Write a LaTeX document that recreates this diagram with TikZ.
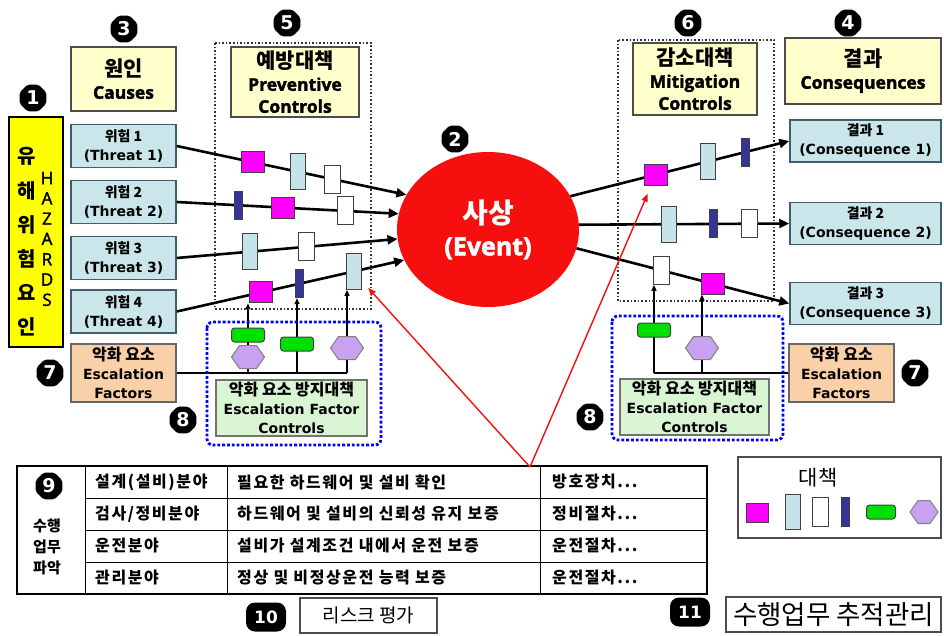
\documentclass[tikz,border=0pt]{standalone}
\usepackage{fontspec}
\setmainfont{Noto Sans CJK KR}
\newfontfamily\lat{DejaVu Sans}
\newfontfamily\lab{Open Sans}[FakeBold=2]
\usetikzlibrary{arrows.meta, positioning, shapes.geometric, shapes.symbols, backgrounds, calc}

\definecolor{hzyel}{HTML}{FFFF00}
\definecolor{lblyel}{HTML}{FFFFCC}
\definecolor{thrfill}{HTML}{CBE6EA}
\definecolor{thrdraw}{HTML}{3F5F6F}
\definecolor{escfill}{HTML}{FAD0A8}
\definecolor{efcfill}{HTML}{D9F5D3}
\definecolor{ctlmag}{HTML}{FF00FF}
\definecolor{ctlblue}{HTML}{C5E3E8}
\definecolor{ctlnavy}{HTML}{333399}
\definecolor{ctlgreen}{HTML}{00E000}
\definecolor{ctlhex}{HTML}{C8A2F0}
\definecolor{evred}{HTML}{F50F0F}

\begin{document}
\begin{tikzpicture}[x=1pt, y=-1pt,
    lblbox/.style={draw=black!70, line width=1.2pt, fill=lblyel, align=center, inner sep=0pt, font=\bfseries\fontsize{17.5}{22}\selectfont},
    thrbox/.style={draw=thrdraw, line width=1.5pt, fill=thrfill, minimum width=105pt, minimum height=43pt, align=center, inner sep=0pt, font=\bfseries\fontsize{14}{19}\selectfont},
    cqbox/.style={thrbox, minimum width=151pt, minimum height=42pt},
    escbox/.style={draw=black!60, line width=1.5pt, fill=escfill, minimum width=105pt, minimum height=58pt, align=center, inner sep=0pt, font=\bfseries\fontsize{14}{19}\selectfont},
    efcbox/.style={draw=black!55, line width=1.2pt, fill=efcfill, minimum height=56pt, align=center, inner sep=0pt, font=\bfseries\fontsize{14}{19}\selectfont},
    tabtext/.style={anchor=west, inner sep=0pt, font=\bfseries\fontsize{16}{18}\selectfont\addfontfeatures{LetterSpace=10}},
    ctl/.style={draw=black!75, line width=1pt, inner sep=0pt},
    ctlM/.style={ctl, fill=ctlmag, minimum width=23pt, minimum height=21pt},
    ctlB/.style={ctl, fill=ctlblue, minimum width=15pt, minimum height=36pt},
    ctlW/.style={ctl, fill=white, minimum width=16pt, minimum height=28pt},
    ctlN/.style={ctl, fill=ctlnavy, minimum width=8pt, minimum height=28pt},
    ctlG/.style={ctl, fill=ctlgreen, rounded corners=3pt, minimum width=33pt, minimum height=14pt},
    ctlH/.style={ctl, draw=black!50, signal, signal to=east and west, signal pointer angle=110, fill=ctlhex, minimum width=33pt, minimum height=23pt},
    num/.style={regular polygon, regular polygon sides=8, fill=black, text=white, minimum size=29pt, inner sep=0pt, rounded corners=2pt, font=\lat\bfseries\fontsize{19}{19}\selectfont},
    numw/.style={fill=black, text=white, rounded corners=9pt, minimum width=40pt, minimum height=29pt, inner sep=0pt, font=\lat\bfseries\fontsize{17}{17}\selectfont},
    flow/.style={line width=2.6pt, -{Triangle[length=10pt,width=9pt]}},
    efline/.style={line width=1.4pt},
    efarrow/.style={line width=1.4pt, -{Triangle[length=6pt,width=5pt]}},
    redarr/.style={evred, line width=1.4pt, -{Triangle[length=8pt,width=6pt]}},
    ctrlzone/.style={draw=black!80, line width=1.6pt, dotted},
    efczone/.style={draw=blue, line width=2.8pt, dotted, rounded corners=6pt}
    ]
    \useasboundingbox (0,0) rectangle (944,636);
    \begin{pgfonlayer}{background}
        \fill[white] (0,0) rectangle (944,636);
    \end{pgfonlayer}

    % Control zones
    \draw[ctrlzone] (215,43) rectangle (371,309);
    \draw[ctrlzone] (618,40) rectangle (774,301);
    \draw[efczone] (207,322) rectangle (381,445);
    \draw[efczone] (612,316) rectangle (783,440);

    % Hazards
    \node[draw=black, line width=1.2pt, fill=hzyel, minimum width=54pt, minimum height=230pt] (hz) at (36,232) {};
    \node[font=\bfseries\fontsize{20}{34.2}\selectfont, align=center, inner sep=0pt] (hzk) at (27,242) {유\\해\\위\\험\\요\\인};
    \node[font=\lab\fontsize{17}{20.3}\selectfont, align=center, inner sep=0pt] (hze) at (47,239) {H\\A\\Z\\A\\R\\D\\S};

    % Headings
    \node[lblbox, minimum width=105pt, minimum height=64pt] (cause) at (123.5,79) {{\fontsize{21}{22}\selectfont 원인}\\{\lab Causes}};
    \node[lblbox, minimum width=128pt, minimum height=70pt] (prev) at (295,82) {{\fontsize{21}{22}\selectfont 예방대책}\\{\lab Preventive}\\{\lab Controls}};
    \node[lblbox, minimum width=124pt, minimum height=72pt] (miti) at (695,79) {{\fontsize{21}{22}\selectfont 감소대책}\\{\lab Mitigation}\\{\lab Controls}};
    \node[lblbox, minimum width=156pt, minimum height=66pt] (conseq) at (863,71) {{\fontsize{21}{22}\selectfont 결과}\\{\lab Consequences}};

    % Threats
    \node[thrbox] (t1) at (123.5,146) {위험 1\\{\lat(Threat 1)}};
    \node[thrbox] (t2) at (123.5,202) {위험 2\\{\lat(Threat 2)}};
    \node[thrbox] (t3) at (123.5,258) {위험 3\\{\lat(Threat 3)}};
    \node[thrbox] (t4) at (123.5,311.5) {위험 4\\{\lat(Threat 4)}};

    % Top event
    \node[ellipse, fill=evred, minimum width=182pt, minimum height=155pt, inner sep=0pt, text=white, align=center, font=\bfseries\fontsize{28}{32}\selectfont] (ev) at (488,229.5) {사상\\{\lab\fontsize{25}{32}\selectfont(Event)}};

    % Consequences
    \node[cqbox] (cq1) at (865.5,141) {결과 1\\{\lat(Consequence 1)}};
    \node[cqbox] (cq2) at (865.5,223.5) {결과 2\\{\lat(Consequence 2)}};
    \node[cqbox] (cq3) at (865.5,303.5) {결과 3\\{\lat(Consequence 3)}};

    % Threat lines with preventive controls
    \draw[flow] (t1.east) -- (ev.157) node[ctlM, pos=.33] (mL1) {} node[ctlB, pos=.53] (bL1) {} node[ctlW, pos=.68] (wL1) {};
    \draw[flow] (t2.east) -- (ev.170) node[ctlN, pos=.28] (nL2) {} node[ctlM, pos=.48] (mL2) {} node[ctlW, pos=.76] (wL2) {};
    \draw[flow] (t3.east) -- (ev.186) node[ctlB, pos=.33] (bL3) {} node[ctlW, pos=.59] (wL3) {};
    \draw[flow] (t4.east) -- (ev.200) node[ctlM, pos=.37] (mL4) {} node[ctlN, pos=.54] (nL4) {} node[ctlB, pos=.78] (bL4) {};

    % Consequence lines with mitigation controls
    \draw[flow] (ev.22) -- (cq1.west) node[ctlM, pos=.39] (mR1) {} node[ctlB, pos=.63] (bR1) {} node[ctlN, pos=.80] (nR1) {};
    \draw[flow] (ev.3) -- (cq2.west) node[ctlB, pos=.43] (bR2) {} node[ctlN, pos=.64] (nR2) {} node[ctlW, pos=.81] (wR2) {};
    \draw[flow] (ev.348) -- (cq3.west) node[ctlW, pos=.40] (wR3) {} node[ctlM, pos=.64] (mR3) {};

    % Escalation factors
    \node[escbox] (efL) at (123.5,373) {{\fontsize{16}{19}\selectfont 악화 요소}\\{\lat Escalation}\\{\lat Factors}};
    \node[escbox] (efR) at (841.5,373) {{\fontsize{16}{19}\selectfont 악화 요소}\\{\lat Escalation}\\{\lat Factors}};
    \node[efcbox, minimum width=151pt] (efcL) at (291.5,408) {{\fontsize{16}{19}\selectfont 악화 요소 방지대책}\\{\lat Escalation Factor}\\{\lat Controls}};
    \node[efcbox, minimum width=149pt] (efcR) at (694.5,407) {{\fontsize{16}{19}\selectfont 악화 요소 방지대책}\\{\lat Escalation Factor}\\{\lat Controls}};

    % Escalation factor controls
    \node[ctlG] (gL1) at (248,335) {};
    \node[ctlH] (hL1) at (248,357) {};
    \node[ctlG] (gL2) at (297,344) {};
    \node[ctlH] (hL3) at (347,348) {};
    \node[ctlG] (gR1) at (654,330) {};
    \node[ctlH] (hR2) at (702,348) {};

    \begin{pgfonlayer}{background}
        \draw[efline] (efL.east) -- (hL3 |- efL.east);
        \draw[efarrow] (gL1 |- efL.east) -- (gL1 |- mL4.south);
        \draw[efarrow] (gL2 |- efL.east) -- (gL2 |- nL4.south);
        \draw[efarrow] (hL3 |- efL.east) -- (hL3 |- bL4.south);
        \draw[efline] (efR.west) -- (gR1 |- efR.west);
        \draw[efarrow] (gR1 |- efR.west) -- (gR1 |- wR3.south);
        \draw[efarrow] (hR2 |- efR.west) -- (hR2 |- mR3.south);
    \end{pgfonlayer}

    % Task table
    \draw[line width=2pt] (17,466) rectangle (707,594);
    \draw[line width=1pt] (85,466) -- (85,594) (227,466) -- (227,594) (540,466) -- (540,594);
    \foreach \y in {498,530,562}
        \draw[line width=1pt] (85,\y) -- (707,\y);
    \foreach \y/\fa/\fb/\fc [count=\i] in {482/{설계(설비)분야}/{필요한 하드웨어 및 설비 확인}/{방호장치...},
            514/{검사/정비분야}/{하드웨어 및 설비의 신뢰성 유지 보증}/{정비절차...},
            546/{운전분야}/{설비가 설계조건 내에서 운전 보증}/{운전절차...},
            578/{관리분야}/{정상 및 비정상운전 능력 보증}/{운전절차...}} {
        \node[tabtext] (fa\i) at (95,\y) {\fa};
        \node[tabtext] (fb\i) at (237,\y) {\fb};
        \node[tabtext] (fc\i) at (552,\y) {\fc};
    }
    \node[align=center, font=\bfseries\fontsize{15}{21}\selectfont, inner sep=0pt] (task) at (47,547) {수행\\업무\\파악};
    \coordinate (rk) at (530,467);

    % Links to the table
    \draw[redarr] (rk) -- ($(bL4.south east)+(6,-2)$);
    \draw[redarr] (rk) -- ($(mR1.south west)+(4,8)$);

    % Legend
    \node[draw=black!70, line width=1.5pt, minimum width=203pt, minimum height=81pt] (lg) at (839.5,497.5) {};
    \node[font=\fontsize{21}{21}\selectfont] (lgt) at (818,478) {대책};
    \node[ctlM, minimum width=22pt, minimum height=19pt] (lg1) at (757,513) {};
    \node[ctlB, minimum height=35pt] (lg2) at (793,512) {};
    \node[ctlW, minimum height=29pt] (lg3) at (820,512) {};
    \node[ctlN, minimum height=29pt] (lg4) at (845,512) {};
    \node[ctlG, minimum width=29pt] (lg5) at (881,512) {};
    \node[ctlH, minimum width=28pt] (lg6) at (924,512) {};

    % Bottom boxes
    \node[draw=black!70, line width=1.2pt, minimum width=137pt, minimum height=35pt, font=\fontsize{19}{19}\selectfont] (risk) at (368.5,615.5) {리스크 평가};
    \node[draw=black!70, line width=1.2pt, minimum width=215pt, minimum height=35pt, font=\fontsize{26.5}{26.5}\selectfont] (track) at (833.5,614.5) {수행업무 추적관리};

    % Numbers
    \node[num] (n1) at (33,98) {1};
    \node[num] (n2) at (455,139) {2};
    \node[num] (n3) at (124,29) {3};
    \node[num] (n4) at (848,23) {4};
    \node[num] (n5) at (287,23) {5};
    \node[num] (n6) at (688,23) {6};
    \node[num] (n7a) at (50,373) {7};
    \node[num] (n7b) at (915,373) {7};
    \node[num] (n8a) at (183,420) {8};
    \node[num] (n8b) at (590,417) {8};
    \node[num] (n9) at (49,486) {9};
    \node[numw] (n10) at (266,617) {10};
    \node[numw] (n11) at (690,612) {11};
\end{tikzpicture}
\end{document}
